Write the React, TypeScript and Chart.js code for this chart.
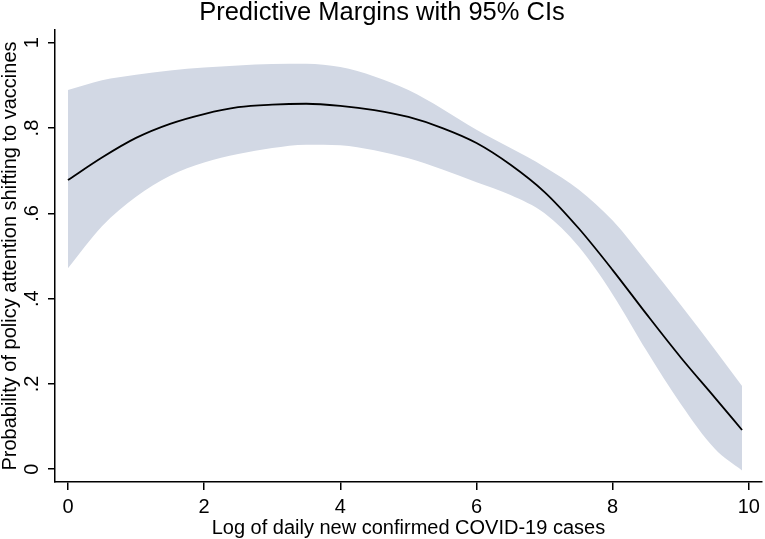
import React, { useEffect, useRef } from "react";
import { Chart, registerables } from "chart.js";

Chart.register(...registerables);

// ---- data ----
const xValues = [0, 0.5, 1, 1.5, 2, 2.5, 3, 3.5, 4, 4.5, 5, 5.5, 6, 6.5, 7, 7.5, 8, 8.5, 9, 9.5, 9.9];
const marginValues = [0.678, 0.731, 0.777, 0.81, 0.833, 0.849, 0.855, 0.857, 0.852, 0.842, 0.826, 0.8, 0.765, 0.714, 0.65, 0.565, 0.467, 0.363, 0.262, 0.168, 0.092];
const upperCI = [0.889, 0.912, 0.925, 0.935, 0.942, 0.947, 0.95, 0.951, 0.943, 0.921, 0.889, 0.845, 0.796, 0.753, 0.709, 0.656, 0.583, 0.486, 0.385, 0.281, 0.195];
const lowerCI = [0.471, 0.57, 0.639, 0.688, 0.719, 0.739, 0.753, 0.761, 0.76, 0.748, 0.729, 0.703, 0.673, 0.643, 0.6, 0.522, 0.41, 0.277, 0.153, 0.048, -0.003];

const xTicks = [0, 2, 4, 6, 8, 10];
const yTicks = [0, 0.2, 0.4, 0.6, 0.8, 1];
const yTickLabels = ["0", ".2", ".4", ".6", ".8", "1"];

const titleText = "Predictive Margins with 95% CIs";
const xTitle = "Log of daily new confirmed COVID-19 cases";
const yTitle = "Probability of policy attention shifting to vaccines";

const FONT = "'Liberation Sans', Arial, Helvetica, sans-serif";
const TICK_SIZE = 20;
const LABEL_SIZE = 20;
const TITLE_SIZE = 25.5;

const rotatedYTicks = {
  id: "rotatedYTicks",
  afterDraw(chart: any) {
    const { ctx } = chart;
    const y = chart.scales.y;
    ctx.save();
    ctx.fillStyle = "#000";
    ctx.font = `${TICK_SIZE}px ${FONT}`;
    ctx.textAlign = "center";
    ctx.textBaseline = "middle";
    yTicks.forEach((v, i) => {
      const py = y.getPixelForValue(v);
      ctx.save();
      ctx.translate(y.right - 23, py);
      ctx.rotate(-Math.PI / 2);
      ctx.fillText(yTickLabels[i], 0, 0);
      ctx.restore();
    });
    ctx.restore();
  },
};

export default function App() {
  const ref = useRef<HTMLCanvasElement | null>(null);

  useEffect(() => {
    if (!ref.current) return;
    const pts = (ys: number[]) => xValues.map((x, i) => ({ x, y: ys[i] }));
    const chart = new Chart(ref.current, {
      type: "line",
      data: {
        datasets: [
          {
            label: "Margin",
            data: pts(marginValues),
            borderColor: "#000",
            borderWidth: 1.8,
            pointRadius: 0,
            cubicInterpolationMode: "monotone",
            fill: false,
          },
          {
            label: "Upper",
            data: pts(upperCI),
            borderWidth: 0,
            borderColor: "rgba(0,0,0,0)",
            backgroundColor: "#d2d8e4",
            pointRadius: 0,
            cubicInterpolationMode: "monotone",
            fill: "+1",
          },
          {
            label: "Lower",
            data: pts(lowerCI),
            borderWidth: 0,
            borderColor: "rgba(0,0,0,0)",
            pointRadius: 0,
            cubicInterpolationMode: "monotone",
            fill: false,
          },
        ],
      },
      options: {
        responsive: false,
        animation: false,
        devicePixelRatio: 1,
        layout: { padding: { left: 0, right: 1, top: 0, bottom: 0 } },
        plugins: {
          legend: { display: false },
          tooltip: { enabled: false },
          filler: { drawTime: "beforeDatasetsDraw" },
          title: {
            display: true,
            text: titleText,
            color: "#000",
            font: { family: FONT, size: TITLE_SIZE, weight: "normal", lineHeight: 1.0 },
            padding: { top: 0.5, bottom: 4 },
          },
        },
        scales: {
          x: {
            type: "linear",
            min: -0.19,
            max: 10.19,
            afterBuildTicks: (scale: any) => {
              scale.ticks = xTicks.map((v) => ({ value: v }));
            },
            afterFit: (scale: any) => {
              scale.height = 57;
            },
            ticks: {
              color: "#000",
              font: { family: FONT, size: TICK_SIZE, lineHeight: 1.2 },
              padding: 5,
              maxRotation: 0,
              autoSkip: false,
            },
            grid: {
              drawOnChartArea: false,
              drawTicks: true,
              tickLength: 8,
              color: "#000",
              lineWidth: 1.5,
            },
            border: { display: true, color: "#000", width: 1.5 },
            title: {
              display: true,
              text: xTitle,
              color: "#000",
              font: { family: FONT, size: LABEL_SIZE, lineHeight: 1.0 },
              padding: { top: 0, bottom: 1 },
            },
          },
          y: {
            type: "linear",
            min: -0.03,
            max: 1.03,
            afterBuildTicks: (scale: any) => {
              scale.ticks = yTicks.map((v) => ({ value: v }));
            },
            afterFit: (scale: any) => {
              scale.width = 55;
            },
            ticks: { display: false },
            grid: {
              drawOnChartArea: false,
              drawTicks: true,
              tickLength: 7,
              color: "#000",
              lineWidth: 1.5,
            },
            border: { display: true, color: "#000", width: 1.5 },
            title: {
              display: true,
              text: yTitle,
              color: "#000",
              font: { family: FONT, size: LABEL_SIZE, lineHeight: 1.0 },
              padding: { top: 0, bottom: 0 },
            },
          },
        },
      },
      plugins: [rotatedYTicks],
    } as any);
    return () => chart.destroy();
  }, []);

  return (
    <div style={{ position: "fixed", left: 0, top: 0, width: 765, height: 539, background: "#fff" }}>
      <canvas ref={ref} width={765} height={539} />
    </div>
  );
}
